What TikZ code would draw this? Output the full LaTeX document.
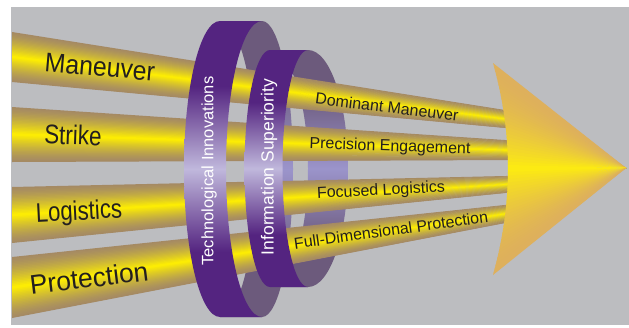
\documentclass[tikz,border=0pt]{standalone}
\usepackage{fontspec}
\setmainfont{Liberation Sans}
\definecolor{bg}{RGB}{188,189,192}
\definecolor{beamedge}{RGB}{165,138,100}
\definecolor{beamyel}{RGB}{255,240,0}
\definecolor{arredge}{RGB}{222,176,92}
\definecolor{arryel}{RGB}{253,236,16}
\definecolor{pdark}{RGB}{84,36,128}
\definecolor{plight}{RGB}{192,184,220}
\definecolor{bdark}{RGB}{108,90,124}
\definecolor{blight}{RGB}{155,148,203}
\definecolor{txt}{RGB}{35,31,32}
\pgfdeclareverticalshading{ringfront}{100bp}{color(0bp)=(pdark); color(25bp)=(pdark); color(36bp)=(pdark); color(50bp)=(plight); color(64bp)=(pdark); color(75bp)=(pdark); color(100bp)=(pdark)}
\pgfdeclareverticalshading{ringback}{100bp}{color(0bp)=(bdark); color(25bp)=(bdark); color(34bp)=(bdark); color(50bp)=(blight); color(66bp)=(bdark); color(75bp)=(bdark); color(100bp)=(bdark)}
\newcommand{\drawbeam}[6]{%
  \foreach \i in {0,...,39}{%
    \pgfmathsetmacro{\ta}{\i/40}%
    \pgfmathsetmacro{\tb}{min(1,(\i+1.6)/40)}%
    \pgfmathsetmacro{\tm}{(\i+0.5)/40}%
    \pgfmathsetmacro{\pp}{100*(1-abs(2*\tm-1))^1.4}%
    \fill[beamyel!\pp!beamedge] (#1,{#2+\ta*(#3-#2)}) -- (#4,{#5+\ta*(#6-#5)}) -- (#4,{#5+\tb*(#6-#5)}) -- (#1,{#2+\tb*(#3-#2)}) -- cycle;
  }}
\tikzset{
  lbl/.style={font=\fontsize{27}{27}\selectfont, text=txt, inner sep=0pt},
  blbl/.style={font=\fontsize{16}{16}\selectfont, text=txt, inner sep=0pt},
  ringlbl/.style={font=\fontsize{16.5}{16.5}\selectfont, text=white, inner sep=0pt, rotate=90}
}
\begin{document}
\begin{tikzpicture}[x=1pt,y=-1pt]
\useasboundingbox (0,0) rectangle (629,327);
\fill[white] (0,0) rectangle (629,327);
\fill[bg] (11,7) rectangle (629,325);
% ring backs
\shade[shading=ringback] (262,21) arc[start angle=270, end angle=450, x radius=31, y radius=148] -- (220,317) arc[start angle=90, end angle=-90, x radius=36, y radius=148] -- cycle;
\shade[shading=ringback] (308,50) arc[start angle=270, end angle=450, x radius=40, y radius=118.5] -- (270,287) arc[start angle=90, end angle=-90, x radius=38, y radius=118.5] -- cycle;
% beams
\drawbeam{12}{32}{82}{515}{111.6}{128.9}
\drawbeam{12}{107}{162}{515}{140.7}{160.0}
\drawbeam{12}{187}{243}{515}{175.8}{192.0}
\drawbeam{12}{257}{318}{515}{203.9}{221.1}
% ring fronts
\shade[shading=ringfront] (220,21) arc[start angle=270, end angle=90, x radius=36, y radius=148] -- (262,317) arc[start angle=90, end angle=270, x radius=36, y radius=148] -- cycle;
\shade[shading=ringfront] (270,50) arc[start angle=270, end angle=90, x radius=25.5, y radius=118.5] -- (308,287) arc[start angle=90, end angle=270, x radius=25.5, y radius=118.5] -- cycle;
% arrow head
\foreach \i in {0,...,59}{%
  \pgfmathsetmacro{\ta}{\i/60}%
  \pgfmathsetmacro{\tb}{min(1,(\i+1.5)/60)}%
  \pgfmathsetmacro{\tm}{(\i+0.5)/60}%
  \pgfmathsetmacro{\pp}{100*(1-abs(2*\tm-1))^2}%
  \pgfmathsetmacro{\xa}{(1-\ta)^2*493+2*\ta*(1-\ta)*523+\ta^2*493}%
  \pgfmathsetmacro{\ya}{(1-\ta)^2*63+2*\ta*(1-\ta)*168+\ta^2*275}%
  \pgfmathsetmacro{\xb}{(1-\tb)^2*493+2*\tb*(1-\tb)*523+\tb^2*493}%
  \pgfmathsetmacro{\yb}{(1-\tb)^2*63+2*\tb*(1-\tb)*168+\tb^2*275}%
  \fill[arryel!\pp!arredge] (626,168) -- (\xa,\ya) -- (\xb,\yb) -- cycle;
}
% labels
\node[lbl, rotate=-5] (maneuver) at (100,67) {\scalebox{0.92}[1]{Maneuver}};
\node[lbl, rotate=-2] (strike) at (73,135) {\scalebox{0.83}[1]{Strike}};
\node[lbl, rotate=3] (logistics) at (79,213) {\scalebox{0.82}[1]{Logistics}};
\node[lbl, rotate=7] (protection) at (89,278) {\scalebox{0.98}[1]{Protection}};
\node[ringlbl] (techinno) at (209,171) {Technological Innovations};
\node[ringlbl, font=\fontsize{17.5}{17.5}\selectfont] (infosup) at (269,167) {Information Superiority};
\node[blbl, rotate=-7] (dommaneuver) at (387,107) {Dominant Maneuver};
\node[blbl, rotate=-2] (precision) at (390,147) {Precision Engagement};
\node[blbl, rotate=3] (focused) at (381,191) {Focused Logistics};
\node[blbl, rotate=8] (fulldim) at (391,230) {Full-Dimensional Protection};
\end{tikzpicture}
\end{document}
